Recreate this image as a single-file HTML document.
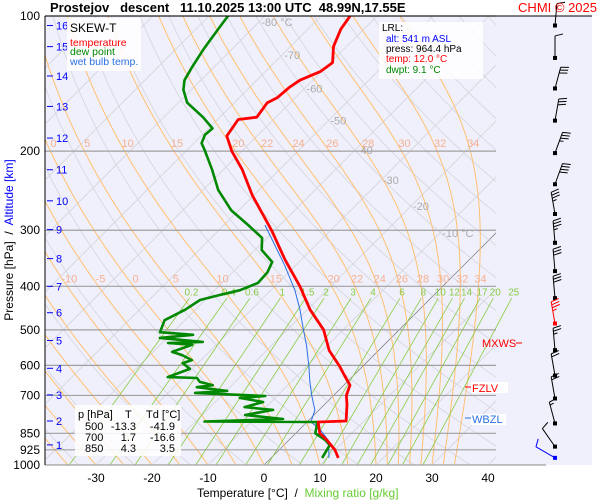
<!DOCTYPE html>
<html><head><meta charset="utf-8">
<style>
html,body{margin:0;padding:0;background:#fff;}
svg{display:block;font-family:"Liberation Sans",sans-serif;}
</style></head>
<body>
<svg id="chart" width="600" height="500" viewBox="0 0 600 500">
  <defs>
    <clipPath id="clipGrid"><rect x="45" y="16" width="451" height="449"/></clipPath>
    <clipPath id="clipPlot"><rect x="45" y="16" width="547" height="449"/></clipPath>
  </defs>
  <rect x="45" y="16" width="547" height="449" fill="#f0f0fc"/>
  <g id="grid"></g>
  <g id="series" clip-path="url(#clipPlot)"></g>
  <g id="winds"></g>
  <g id="axes"></g>
  <line x1="45" y1="16" x2="592" y2="16" stroke="#000" stroke-width="1"/>
  <line x1="45" y1="16" x2="45" y2="465" stroke="#000" stroke-width="1"/>
  <text x="50" y="12" font-size="13" font-weight="bold" style="white-space:pre">Prostejov   descent   11.10.2025 13:00 UTC  48.99N,17.55E</text>
  <text x="597" y="12" font-size="13" fill="#f00" text-anchor="end">CHMI © 2025</text>
  <g>
    <rect x="67" y="18" width="74" height="53" fill="#fff" opacity="0.85"/>
    <text x="70" y="32" font-size="12">SKEW-T</text>
    <text x="70" y="46" font-size="10.5" fill="#f00">temperature</text>
    <text x="70" y="55" font-size="10.5" fill="#080">dew point</text>
    <text x="70" y="65" font-size="10.5" fill="#2a6fe0">wet bulb temp.</text>
  </g>
  <g>
    <rect x="379" y="22" width="104" height="57" fill="#fff" opacity="0.85"/>
    <text x="382" y="31" font-size="10">LRL:</text>
    <text x="386" y="42" font-size="10" fill="#00f">alt: 541 m ASL</text>
    <text x="386" y="52" font-size="10">press: 964.4 hPa</text>
    <text x="386" y="62" font-size="10" fill="#f00">temp: 12.0 °C</text>
    <text x="386" y="73" font-size="10" fill="#080">dwpt: 9.1 °C</text>
  </g>
  <g font-size="11">
    <rect x="75" y="405" width="106" height="51" fill="#fff" opacity="0.85"/>
    <text x="78" y="418">p [hPa]</text><text x="125" y="418">T</text><text x="146" y="418">Td [°C]</text>
    <text x="85" y="430">500</text><text x="136" y="430" text-anchor="end">-13.3</text><text x="175" y="430" text-anchor="end">-41.9</text>
    <text x="85" y="441">700</text><text x="136" y="441" text-anchor="end">1.7</text><text x="175" y="441" text-anchor="end">-16.6</text>
    <text x="85" y="452">850</text><text x="136" y="452" text-anchor="end">4.3</text><text x="175" y="452" text-anchor="end">3.5</text>
  </g>
  <g font-size="11">
    <text x="482" y="347" fill="#f00">MXWS</text>
    <line x1="516" y1="343" x2="522" y2="343" stroke="#f00"/>
    <rect x="471" y="382" width="37" height="11" fill="#fff"/>
    <line x1="465" y1="387" x2="471" y2="387" stroke="#f00"/>
    <text x="472" y="392" fill="#f00">FZLV</text>
    <rect x="471" y="414" width="35" height="11" fill="#fff"/>
    <line x1="465" y1="418" x2="471" y2="418" stroke="#2a6fe0"/>
    <text x="472" y="423" fill="#2a6fe0">WBZL</text>
  </g>
  <text x="197" y="497" font-size="12" style="white-space:pre">Temperature [°C]  /  <tspan fill="#6c3">Mixing ratio [g/kg]</tspan></text>
  <text transform="translate(13,240) rotate(-90)" font-size="12" text-anchor="middle" style="white-space:pre">Pressure [hPa]  /  <tspan fill="#00f">Altitude [km]</tspan></text>
</svg>
<script>
// ---- data ----
const tempP = [964,926,880,850,802,798,735,700,664,632,603,556,500,451,400,349,301,251,220,200,185,170,168,156,152,144,139,133,127,117,107,100];
const tempT = [12.0,10.0,6.8,4.3,2.0,6.8,4.1,2.3,1.1,-1.6,-4.1,-8.8,-13.5,-19.5,-25.5,-32.9,-40.4,-50.2,-56.6,-61.8,-65.4,-66.3,-63.4,-64.1,-63.2,-62.9,-62.3,-60.2,-59.6,-62.3,-64.1,-64.8];
const dewP = [964,903,880,850,820,802,800,790,774,754,743,724,709,702,691,684,671,664,653,640,637,611,593,584,569,560,540,535,532,521,513,506,476,451,429,418,408,393,372,353,332,312,292,271,244,220,199,192,184,178,168,156,146,139,130,119,113,106,100];
const dewT = [9.1,8.2,6.5,3.5,2.5,1.8,-18.4,-4.8,-12.3,-8.2,-13.8,-11.4,-16.3,-12.1,-25.2,-19.8,-25.9,-23.4,-26.3,-27.5,-32.9,-30.4,-32.7,-31.6,-34.3,-36.6,-34.3,-38.9,-32.9,-41.3,-35.9,-42.3,-43.6,-41.8,-40.9,-38.2,-35.5,-33.6,-33.8,-34.8,-38.8,-40.9,-45.7,-51.3,-57.3,-62.0,-66.8,-68.6,-69.5,-69.3,-73.0,-78.4,-81.4,-82.9,-83.9,-85.0,-85.5,-86.1,-86.6];
const wbP = [964,955,880,830,802,755,700,647,603,541,500,451,408,359,316,292];
const wbT = [10.3,10.0,7.0,3.4,0.7,-0.7,-3.9,-7.0,-9.6,-13.8,-17.1,-21.3,-25.7,-32.0,-38.6,-42.7];
const windP = [105,124,145,171,202,237,276,320,370,425,484,555,632,711,808,910,964];
const windDir = [5,0,15,10,20,20,350,355,355,355,350,355,350,350,345,325,300];
const windSpd = [10,10,30,30,35,40,35,35,30,30,35,25,20,20,15,10,10];
const pressTicks = [100,200,300,400,500,600,700,850,925,1000];
const tempTicks = [-30,-20,-10,0,10,20,30,40];
const mixRatios = [0.2,0.4,0.6,1,1.5,2,3,4,6,8,10,12,14,17,20,25];
const mixLabels = ["0.2","0.4","0.6","1","1.5","2","3","4","6","8","10","12","14","17","20","25"];
const moistThetas = [-40,-35,-30,-25,-20,-15,-10,-5,0,5,10,15,20,22,24,26,28,30,32,34];
const moistLabels200 = [0,5,10,15,20,22,24,26,28,30,32,34];
const moistLabels400 = [-10,-5,0,5,10,15,20,22,24,26,28,30,32,34];
const isoLabelT = [-80,-70,-60,-50,-40,-30,-20,-10];
const isoLabelP = [103,122,145,171,199,232,265,304];
const altKm = [1,2,3,4,5,6,7,8,9,10,11,12,13,14,15,16];
const altP = [902,798,698,609,528,458,400,347,299,258,220,187,159,136,117,105];

// ---- axis functions ----
const NS="http://www.w3.org/2000/svg";
function yP(p){return 16+449*Math.log10(p/100);}
function xT(T,p){return 264+5.6*T+(465-yP(p));}
function mk(tag,attrs,parent){const e=document.createElementNS(NS,tag);for(const k in attrs)e.setAttribute(k,attrs[k]);parent.appendChild(e);return e;}
const grid=document.getElementById('grid'), series=document.getElementById('series'), winds=document.getElementById('winds'), axes=document.getElementById('axes');
const gClip=mk('g',{'clip-path':'url(#clipGrid)'},grid);
const gClip2=mk('g',{'clip-path':'url(#clipPlot)'},grid);

// isotherms
for(let T=-160;T<=40;T+=10){
  const l=mk('line',{x1:xT(T,1000),y1:yP(1000),x2:xT(T,100),y2:yP(100),stroke:T===0?'#888':'#d4d4dc','stroke-width':0.8},gClip);
  
  
}
// dry adiabats
for(let th=230;th<=520;th+=10){
  let d='';
  for(let p=1000;p>=100;p-=10){const T=th*Math.pow(p/1000,0.286)-273.15;d+=(p===1000?'M':'L')+xT(T,p).toFixed(1)+' '+yP(p).toFixed(1);}
  const e=mk('path',{d:d,fill:'none',stroke:'#d4d4dc','stroke-width':0.8},gClip);
  
  
}
// moist adiabats
function es(T){return 6.112*Math.exp(17.67*(T-273.15)/(T-29.65));}
const moistCurves={};
moistThetas.forEach(tw=>{
  let T=tw+273.15, pts=[];
  for(let p=1000;p>=100;p-=2){
    pts.push([p,T-273.15]);
    const e=es(T), rs=0.622*e/(p-e);
    const dTdp=(287*T+2.5e6*rs)/(p*(1004+2.5e6*2.5e6*rs*0.622/(287*T*T)));
    T-=dTdp*2;
  }
  moistCurves[tw]=pts;
  let d=pts.map((q,i)=>(i?'L':'M')+xT(q[1],q[0]).toFixed(1)+' '+yP(q[0]).toFixed(1)).join('');
  const e=mk('path',{d:d,fill:'none',stroke:'#ffc070','stroke-width':1},gClip);
  
  
});
function moistAt(tw,p){const c=moistCurves[tw];let b=c[0];c.forEach(q=>{if(Math.abs(q[0]-p)<Math.abs(b[0]-p))b=q;});return b[1];}
moistLabels200.forEach(tw=>{const t=mk('text',{x:xT(moistAt(tw,200),200)+3,y:yP(200)-4,'font-size':11,fill:'#f6b090','text-anchor':'middle'},grid);t.textContent=tw;
  
  });
moistLabels400.forEach(tw=>{const t=mk('text',{x:xT(moistAt(tw,400),400)+2,y:yP(400)-4,'font-size':11,fill:'#f6b090','text-anchor':'middle'},grid);t.textContent=tw;
  
  });
// mixing ratio
function tdFromW(w,p){const e=w*p/(622+w);const L=Math.log(e/6.112);return 243.5*L/(17.67-L);}
mixRatios.forEach((w,i)=>{
  const l=mk('line',{x1:xT(tdFromW(w,1000),1000),y1:yP(1000),x2:xT(tdFromW(w,425),425),y2:yP(425),stroke:'#8c4','stroke-width':0.8},gClip2);
  
  
  const t=mk('text',{x:xT(tdFromW(w,425),425)+2,y:yP(415)+2,'font-size':10,fill:'#8c4','text-anchor':'middle'},grid);
  t.textContent=mixLabels[i];
  
  
});
// isotherm labels
isoLabelT.forEach((T,i)=>{const t=mk('text',{x:xT(T,isoLabelP[i])+2,y:yP(isoLabelP[i])+4,'font-size':11,fill:'#aaa'},grid);
  t.textContent=T+(i===0||i===isoLabelT.length-1?' °C':'');
  
  });
// pressure lines and labels
pressTicks.forEach(p=>{
  const l=mk('line',{x1:45,y1:yP(p),x2:p===1000?546:496,y2:yP(p),stroke:'#a0a0a0','stroke-width':1.2},grid);
  
  
  const t=mk('text',{x:40,y:yP(p)+4,'font-size':12,'text-anchor':'end'},axes);
  t.textContent=p;
  
  
});
tempTicks.forEach(T=>{const t=mk('text',{x:xT(T,1000),y:482,'font-size':12,'text-anchor':'middle'},axes);t.textContent=T;
  
  });
altKm.forEach((k,i)=>{const y=yP(altP[i]);
  mk('line',{x1:47,y1:y,x2:53,y2:y,stroke:'#00f','stroke-width':1},axes);
  const t=mk('text',{x:56,y:y+4,'font-size':11,fill:'#00f'},axes);t.textContent=k;
  
  });

// series
function line(P,T,color,w,name){
  const d=P.map((p,i)=>(i?'L':'M')+xT(T[i],p).toFixed(1)+' '+yP(p).toFixed(1)).join('');
  const e=mk('path',{d:d,fill:'none',stroke:color,'stroke-width':w,'stroke-linejoin':'round'},series);
  
  
}
line(wbP,wbT,'#2a6fe0',1,'wet-bulb-line');
line(dewP,dewT,'#080',2.6,'dew-point-line');
line(tempP,tempT,'#f00',2.8,'temperature-line');

// wind barbs
windP.forEach((p,i)=>{
  const x0=555,y0=yP(p),a=windDir[i]*Math.PI/180;
  const dx=Math.sin(a),dy=-Math.cos(a),L=22;
  const col=i===10?'#f00':(i===windP.length-1?'#00f':'#000');
  const g=mk('g',{},winds);
  
  
  const tx=x0+dx*L,ty=y0+dy*L;
  mk('line',{x1:x0,y1:y0,x2:tx,y2:ty,stroke:col,'stroke-width':1},g);
  mk('rect',{x:x0-2,y:y0-2,width:4,height:4,fill:col},g);
  const px=-dy,py=dx;
  let s=windSpd[i],pos=0;
  while(s>=50){const bx=tx-dx*pos,by=ty-dy*pos;mk('path',{d:`M${bx} ${by}L${bx+px*8+dx*2} ${by+py*8+dy*2}L${bx-dx*4} ${by-dy*4}`,fill:'none',stroke:col},g);s-=50;pos+=5;}
  while(s>=10){const bx=tx-dx*pos,by=ty-dy*pos;mk('line',{x1:bx,y1:by,x2:bx+px*8+dx*2,y2:by+py*8+dy*2,stroke:col},g);s-=10;pos+=3;}
  if(s>=5){const bx=tx-dx*pos,by=ty-dy*pos;mk('line',{x1:bx,y1:by,x2:bx+px*4+dx*1,y2:by+py*4+dy*1,stroke:col},g);}
});
</script>
</body></html>
